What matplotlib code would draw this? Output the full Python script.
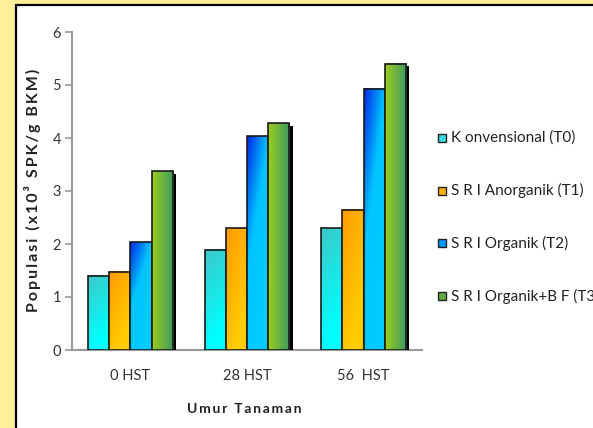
import numpy as np
import matplotlib.pyplot as plt
from matplotlib.colors import LinearSegmentedColormap
from matplotlib.patches import Rectangle

plt.rcParams['font.family'] = ['Lato', 'DejaVu Sans']

# populasi per umur tanaman
kategori = ["0 HST", "28 HST", "56  HST"]
perlakuan = ["K onvensional (T0)", "S R I Anorganik (T1)", "S R I Organik (T2)", "S R I Organik+B F (T3)"]
t0 = [1.40, 1.89, 2.30]
t1 = [1.48, 2.30, 2.65]
t2 = [2.03, 4.03, 4.93]
t3 = [3.37, 4.28, 5.40]
nilai = [t0, t1, t2, t3]

# warna gradasi tiap perlakuan dan arah gradasi
gradasi = [
    (["#3CC8C8", "#00FFFF"], "v"),
    (["#FF9A00", "#FFCC00"], "d"),
    (["#0028E8", "#00C4FF", "#00CCFF"], "d"),
    (["#9CCC1C", "#3C9A62"], "h"),
]
warna_kotak = ["#33E0E0", "#FFB000", "#0099FF", "#66AA44"]


def renggang(teks):
    # huruf direnggangkan dengan spasi tipis
    return "\u2009".join(teks)


fig = plt.figure(figsize=(5.93, 4.28), dpi=100)
fig.patch.set_facecolor("#FFEF99")

# panel putih
panel = Rectangle((16 / 593, -0.1), 1.2, 1 - 5 / 428 + 0.1, transform=fig.transFigure,
                  facecolor="white", edgecolor="black", linewidth=1.6, zorder=-5)
fig.patches.append(panel)

ax = fig.add_axes([72 / 593, 1 - 350 / 428, 350 / 593, 318 / 428])
ax.set_facecolor("none")
ax.set_zorder(2)

lebar = 0.182
x = np.arange(len(kategori))
ny, nx = 60, 30
gy, gx = np.mgrid[0:1:ny * 1j, 0:1:nx * 1j]

for i, seri in enumerate(nilai):
    warna, arah = gradasi[i]
    cmap = LinearSegmentedColormap.from_list("g%d" % i, warna)
    # baris 0 = dasar batang, nilai 0 = warna gelap di kiri atas
    if arah == "v":
        grad = 1 - gy + 0.25 * gx
    elif arah == "h":
        grad = gx
    else:
        grad = 0.5 * gx + 0.8 * (1 - gy)
    grad = np.clip(grad, 0, 1)
    for j, v in enumerate(seri):
        x0 = x[j] - 2 * lebar + i * lebar
        # bayangan
        ax.add_patch(Rectangle((x0 + 0.028, 0), lebar, v - 0.05, facecolor="black",
                               edgecolor="none", zorder=2 + 2 * i))
        ax.imshow(grad, cmap=cmap, extent=(x0, x0 + lebar, 0, v), origin="lower",
                  aspect="auto", zorder=3 + 2 * i, interpolation="bilinear")
        ax.add_patch(Rectangle((x0, 0), lebar, v, facecolor="none",
                               edgecolor="#1a1a1a", linewidth=1.2, zorder=3 + 2 * i))

ax.set_xlim(-0.5, 2.5)
ax.set_ylim(0, 6)
ax.set_yticks(range(0, 7))
ax.set_xticks(x)
ax.set_xticklabels(kategori)
for s in ["top", "right"]:
    ax.spines[s].set_visible(False)
for s in ["left", "bottom"]:
    ax.spines[s].set_color("#999999")
    ax.spines[s].set_linewidth(1.5)
ax.tick_params(axis="y", length=5, width=1.2, color="#999999", labelsize=10.5,
               labelcolor="#333333", pad=3)
ax.tick_params(axis="x", length=0, labelsize=10.5, labelcolor="#333333", pad=14)

fig.text(33 / 593, 1 - 190 / 428, renggang("Populasi (x10³ SPK/g BKM)"), rotation=90,
         ha="center", va="center", fontsize=11.5, fontweight="bold", color="#222222")
fig.text(244 / 593, 1 - 409 / 428, renggang("Umur Tanaman"), ha="center", va="center",
         fontsize=10, fontweight="bold", color="#222222")

# legenda
for k, nama in enumerate(perlakuan):
    yy = 1 - (138 + k * 52.7) / 428
    fig.patches.append(Rectangle((438 / 593, yy - 4 / 428), 8 / 593, 8 / 428,
                                 transform=fig.transFigure, facecolor=warna_kotak[k],
                                 edgecolor="#222222", linewidth=1))
    fig.text(451 / 593, yy, nama, ha="left", va="center", fontsize=11, color="#222222")

fig.savefig("out.png", dpi=100)
